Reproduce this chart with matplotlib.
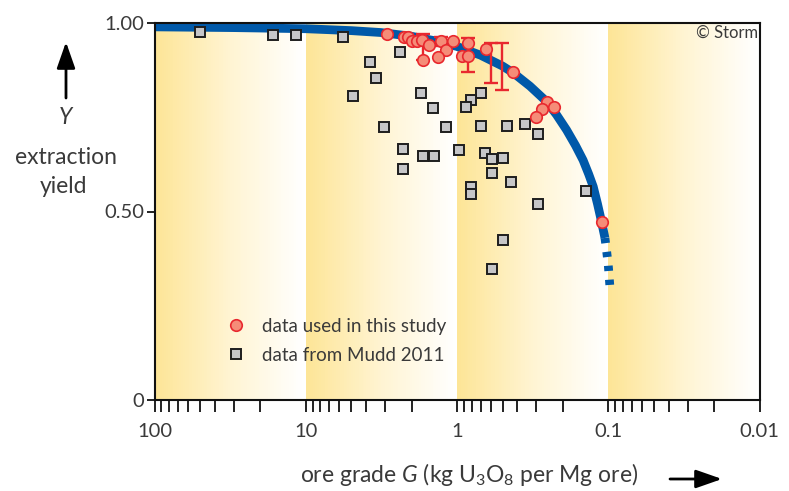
import numpy as np
import matplotlib.pyplot as plt
from matplotlib.colors import LinearSegmentedColormap
from matplotlib.lines import Line2D
from matplotlib.ticker import FixedLocator, NullFormatter

plt.rcParams['font.family'] = ['Lato', 'DejaVu Sans']
plt.rcParams['mathtext.fontset'] = 'custom'
plt.rcParams['mathtext.rm'] = 'Lato'
plt.rcParams['mathtext.it'] = 'Lato:italic'

# == Model curve == #
curve_G = [100, 30, 10, 5, 3.2, 2, 1.4, 1.0, 0.7, 0.5, 0.425, 0.33, 0.256,
           0.22, 0.189, 0.165, 0.147, 0.135, 0.126, 0.118, 0.111, 0.1054]
curve_Y = [0.989, 0.987, 0.984, 0.979, 0.974, 0.964, 0.952, 0.937, 0.914,
           0.885, 0.867, 0.832, 0.791, 0.756, 0.716, 0.675, 0.636, 0.599,
           0.566, 0.520, 0.473, 0.430]
tail_G = [0.1054, 0.1026, 0.1002, 0.0987, 0.0977]
tail_Y = [0.430, 0.393, 0.358, 0.324, 0.300]

# == Data used in this study == #
study_G = [2.89, 2.24, 2.10, 2.00, 1.85, 1.71, 1.69, 1.53, 1.28, 1.18, 1.33,
           1.07, 0.853, 0.933, 0.853, 0.644, 0.425, 0.256, 0.228, 0.276,
           0.301, 0.111]
study_Y = [0.970, 0.963, 0.963, 0.952, 0.952, 0.954, 0.901, 0.941, 0.952,
           0.928, 0.910, 0.952, 0.947, 0.913, 0.913, 0.930, 0.869, 0.791,
           0.778, 0.771, 0.751, 0.473]

# error bars (low / high yield)
err_G = [1.69, 1.28, 0.853, 0.597, 0.507]
err_lo = [0.901, 0.938, 0.869, 0.841, 0.821]
err_hi = [0.970, 0.962, 0.959, 0.947, 0.947]

# == Data from Mudd 2011 == #
mudd_G = [50.0, 16.5, 11.6, 5.68, 2.38, 3.76, 3.44, 4.88, 3.04, 1.73, 1.44,
          1.18, 0.695, 0.809, 0.873, 0.695, 0.468, 0.356, 0.292, 2.28, 1.68,
          1.42, 0.970, 0.654, 0.588, 0.498, 2.28, 0.588, 0.440, 0.809, 0.809,
          0.292, 0.141, 0.498, 0.588]
mudd_Y = [0.975, 0.967, 0.967, 0.962, 0.922, 0.896, 0.854, 0.806, 0.724,
          0.815, 0.774, 0.724, 0.815, 0.795, 0.777, 0.727, 0.727, 0.732,
          0.705, 0.665, 0.647, 0.647, 0.663, 0.655, 0.639, 0.642, 0.612,
          0.602, 0.578, 0.565, 0.546, 0.520, 0.554, 0.425, 0.348]

decades = [100, 10, 1, 0.1, 0.01]
decade_labels = ['100', '10', '1', '0.1', '0.01']

txt = '#3a3a3a'
blue = '#0059a9'
red = '#e8282e'

W, H = 789, 491
fig = plt.figure(figsize=(W / 100, H / 100), dpi=100)
ax = fig.add_axes([154.5 / W, 1 - 400.3 / H, (759.7 - 154.5) / W, (400.3 - 22.7) / H])

# yellow -> white gradient in every decade
cmap = LinearSegmentedColormap.from_list('yw', ['#fde597', '#fff4d2', '#ffffff'])
for hi, lo in zip(decades[:-1], decades[1:]):
    xe = np.logspace(np.log10(hi), np.log10(lo), 81)
    c = np.linspace(0, 1, 80)[None, :]
    ax.pcolormesh(xe, [0, 1], c, cmap=cmap, vmin=0, vmax=1, shading='flat',
                  edgecolor='none', antialiased=False, zorder=0)

# model curve
ax.plot(curve_G, curve_Y, color=blue, lw=6.3, solid_capstyle='butt',
        solid_joinstyle='round', zorder=2)
ax.plot(tail_G, tail_Y, color=blue, lw=6.3, dashes=(0.6, 1.0),
        dash_capstyle='butt', zorder=2)

# data points
ax.plot(mudd_G, mudd_Y, 's', ms=7.8, mfc='#c6c6c8', mec='#1e1e1e', mew=1.4,
        zorder=3)
mid = (np.array(err_lo) + np.array(err_hi)) / 2
half = (np.array(err_hi) - np.array(err_lo)) / 2
ax.errorbar(err_G, mid, yerr=half, fmt='none', ecolor=red, elinewidth=1.7,
            capsize=5, capthick=1.7, zorder=4)
ax.plot(study_G, study_Y, 'o', ms=8.3, mfc='#f58c78', mec=red, mew=1.2,
        zorder=5)

# axes
ax.set_xscale('log')
ax.set_xlim(100, 0.01)
ax.set_ylim(0, 1)
ax.xaxis.set_major_locator(FixedLocator(decades))
ax.set_xticklabels(decade_labels)
minor = [m * d for d in decades[1:] for m in range(2, 10)]
ax.xaxis.set_minor_locator(FixedLocator(minor))
ax.xaxis.set_minor_formatter(NullFormatter())
ax.set_yticks([0, 0.5, 1.0])
ax.set_yticklabels(['0', '0.50', '1.00'])
ax.tick_params(axis='x', which='both', direction='out', length=8.5, width=1.3,
               colors='#111111', labelcolor=txt, labelsize=14.5, pad=8)
ax.tick_params(axis='y', direction='out', length=5.5, width=1.3,
               colors='#111111', labelcolor=txt, labelsize=14.5, pad=2)
for s in ax.spines.values():
    s.set_linewidth(1.5)
    s.set_color('#111111')

# legend
handles = [
    Line2D([], [], ls='none', marker='o', ms=8.3, mfc='#f58c78', mec=red, mew=1.2),
    Line2D([], [], ls='none', marker='s', ms=7.8, mfc='#c6c6c8', mec='#1e1e1e', mew=1.4),
]
ax.legend(handles, ['data used in this study', 'data from Mudd 2011'],
          frameon=False, loc='upper left', fontsize=13.5, handlelength=0.95,
          handletextpad=0.9, labelspacing=0.62, borderpad=0, borderaxespad=0,
          bbox_to_anchor=(227.5 / W, 1 - 318 / H), bbox_transform=fig.transFigure,
          labelcolor=txt)

fig.text(758 / W, 1 - 33 / H, '\u00a9 Storm', ha='right', va='center',
         fontsize=12, color=txt)

# y label with arrow
fig.text(65 / W, 1 - 118 / H, 'Y', ha='center', va='center', fontsize=16.5,
         color=txt, style='italic')
fig.text(66 / W, 1 - 158 / H, 'extraction', ha='center', va='center',
         fontsize=16.5, color=txt)
fig.text(64 / W, 1 - 187 / H, 'yield', ha='center', va='center',
         fontsize=16.5, color=txt)
ax.annotate('', xy=(66 / W, 1 - 42 / H), xytext=(66 / W, 1 - 98 / H),
            xycoords='figure fraction', textcoords='figure fraction',
            arrowprops=dict(arrowstyle='-|>,head_length=0.8,head_width=0.28',
                            color='black', lw=2, mutation_scale=20,
                            shrinkA=0, shrinkB=0))

# x label with arrow
fig.text(469 / W, 1 - 474 / H, r'ore grade $G$ (kg U$_3$O$_8$ per Mg ore)',
         ha='center', va='center', fontsize=16.5, color=txt)
ax.annotate('', xy=(722 / W, 1 - 479 / H), xytext=(670 / W, 1 - 479 / H),
            xycoords='figure fraction', textcoords='figure fraction',
            arrowprops=dict(arrowstyle='-|>,head_length=0.8,head_width=0.28',
                            color='black', lw=2, mutation_scale=20,
                            shrinkA=0, shrinkB=0))

fig.savefig('out.png', dpi=100)
